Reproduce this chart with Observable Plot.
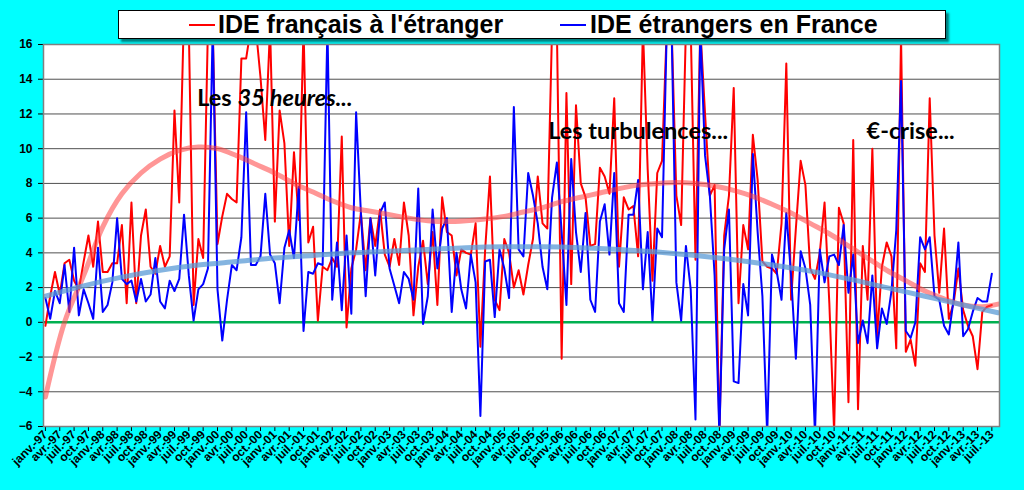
<!DOCTYPE html>
<html><head><meta charset="utf-8">
<script src="https://cdn.jsdelivr.net/npm/d3@7"></script>
<script src="https://cdn.jsdelivr.net/npm/@observablehq/plot@0.6"></script>
<style>
html,body{margin:0;padding:0;background:#00ffff;}
#wrap{position:relative;width:1024px;height:490px;overflow:hidden;background:#00ffff;}
#legend{position:absolute;left:118px;top:10px;width:826px;height:27px;background:#fff;border:1px solid #000;box-shadow:3px 3px 2px rgba(0,0,0,0.5);font:bold 25px "Liberation Sans",Arial,sans-serif;color:#000;z-index:2;}
.sw{position:absolute;top:13px;width:26px;height:2px;}
.lt{position:absolute;top:-2px;white-space:nowrap;line-height:30px;}
#chart{position:absolute;left:0;top:0;}
</style></head>
<body><div id="wrap">
<div id="legend">
  <div class="sw" style="left:70px;background:#ff0000"></div><div class="lt" style="left:99px">IDE français à l'étranger</div>
  <div class="sw" style="left:441px;background:#0000ff"></div><div class="lt" style="left:471px">IDE étrangers en France</div>
</div>
<div id="chart"></div>
</div>
<script>
// Monthly values, janv.97 .. juil.13
const ideFrancaisEtranger = [
-0.2,1.5,2.9,1.6,3.4,3.6,2.4,1.9,3.5,5.0,3.2,5.8,2.9,2.9,3.4,3.4,5.6,1.1,6.9,1.1,5.0,6.5,3.2,2.8,4.4,
3.2,3.8,12.2,6.9,18,17,1.0,4.8,3.7,17,17,4.5,6.1,7.4,7.1,6.9,15.2,15.2,17,17,14.1,10.5,17,5.8,12.2,
10.3,4.4,9.8,5.9,17,4.6,5.5,0.1,3.2,3.0,3.7,3.2,10.7,-0.3,3.1,4.2,6.3,3.0,6.0,4.4,6.5,3.9,3.2,4.8,3.3,
6.9,5.0,0.4,3.2,4.7,2.2,5.2,1.0,7.2,5.2,5.0,2.7,4.2,4.0,3.9,5.7,-1.4,4.2,8.4,1.3,0.7,4.8,4.0,2.0,3.0,
1.6,3.3,4.8,8.4,5.7,5.4,17,17,-2.1,13.2,2.2,12.5,8.0,7.2,4.4,4.5,8.9,8.4,7.4,12.9,3.2,7.2,6.5,6.7,3.8,
17,8.8,2.4,8.6,9.3,17,17,7.3,5.6,17,17,3.6,17,12,7.3,7.9,-6.5,5.0,7.3,13.5,1.1,5.6,4.2,10.8,8.2,
3.5,3.2,3.1,2.8,5.7,14.9,1.3,5.4,9.3,7.9,3.1,2.5,4.0,6.9,1.1,-6.3,6.6,5.7,-4.6,10.5,-5.0,4.4,1.3,10.0,-0.8,
3.2,4.6,3.8,-1.5,16.5,-1.7,-1.0,-2.5,3.4,2.9,12.9,5.0,1.7,5.4,0.2,1.1,3.1,0.7,-0.2,-0.8,-2.7,0.6,0.9,1.0
];
const ideEtrangersFrance = [
1.4,0.2,1.8,1.1,3.3,0.6,4.3,0.4,1.9,1.1,0.2,4.3,0.6,1.0,2.3,6.0,2.5,2.2,2.4,1.2,2.5,1.2,1.6,3.7,1.2,
0.8,2.4,1.8,2.5,6.2,2.7,0.1,1.9,2.2,3.1,17,1.9,-1.05,1.3,3.3,3.0,4.9,12.1,3.3,3.3,3.8,7.4,3.9,3.4,1.1,
4.3,5.3,3.7,7.8,-0.5,2.9,2.8,3.4,3.3,17,1.3,4.6,0.7,5.0,0.5,12.1,6.3,1.5,6.0,2.7,6.3,6.9,3.1,2.1,1.1,
2.9,2.5,1.3,7.7,-0.1,1.5,6.5,3.1,5.4,6.0,0.6,4.0,1.9,0.8,3.9,2.3,-5.4,3.5,3.6,0.3,4.2,3.1,1.4,12.4,4.2,
3.8,8.6,7.3,5.7,3.2,1.9,7.2,9.2,5.2,1.0,9.4,5.2,2.9,6.3,1.3,0.6,5.8,6.8,3.9,8.6,1.1,0.6,6.2,6.2,8.2,
1.9,5.2,0.1,5.4,4.9,17,17,2.3,0.1,4.4,1.9,-5.6,17,9.6,7.3,2.7,-6.5,4.2,6.5,-3.4,-3.5,2.2,0.4,9.7,5.2,
1.5,-6.5,3.9,2.9,1.3,6.3,2.7,-2.1,4.1,3.1,1.0,-6.5,4.2,2.3,3.8,3.9,3.3,5.6,1.7,3.9,-1.2,0.1,-1.2,2.7,-1.5,
0.8,-0.1,1.8,5.3,13.9,-0.5,-0.9,0.0,4.9,4.2,4.9,1.5,1.3,-0.2,-0.7,1.3,4.6,-0.8,-0.4,0.6,1.4,1.2,1.2,2.8
];
// Trend curves (month index, value)
const trendFrancaisMonths = [0,4,8,12,16,20,24,28,32,36,40,44,48,52,56,60,64,68,72,76,80,84,88,92,96,100,104,108,112,116,120,124,128,132,136,140,144,148,152,156,160,164,168,172,176,180,184,188,192,196,199.3];
const trendFrancaisValues = [-4.3,0,2.7,5.5,7.4,8.6,9.4,9.9,10.1,10.0,9.6,9.1,8.6,8.0,7.5,7.0,6.6,6.4,6.2,6.0,5.85,5.8,5.85,5.95,6.1,6.35,6.6,6.95,7.2,7.45,7.7,7.9,8.0,8.05,8.0,7.85,7.6,7.25,6.8,6.3,5.7,5.1,4.4,3.7,3.0,2.4,1.8,1.35,1.0,0.9,1.05];
const trendEtrangersMonths = [0,8,16,24,32,40,48,56,64,72,80,88,96,104,112,120,128,136,144,152,160,168,176,184,192,199.3];
const trendEtrangersValues = [1.5,2.1,2.6,3.0,3.3,3.5,3.7,3.85,4.0,4.1,4.2,4.3,4.35,4.35,4.3,4.2,4.05,3.85,3.6,3.3,2.95,2.5,2.0,1.5,1.0,0.55];
// Axis labels
const quarterNames = ["janv.-","avr.-","juil.-","oct.-"];
const yearNames = ["97","98","99","00","01","02","03","04","05","06","07","08","09","10","11","12","13"];
const tickLabels = yearNames.flatMap(y => quarterNames.map(q => q + y)).slice(0, 67);
const yTicks = [-6,-4,-2,0,2,4,6,8,10,12,14,16];
// Annotations
const noteTexts = ["Les 35 heures...", "Les turbulences...", "€-crise..."];
const noteMonths = [48, 124, 181];
const noteValues = [12.9, 11.0, 11.0];

const red = ideFrancaisEtranger.map((v, i) => ({m: i, v}));
const blue = ideEtrangersFrance.map((v, i) => ({m: i, v}));
const redTrend = trendFrancaisMonths.map((m, i) => ({m, v: trendFrancaisValues[i]}));
const blueTrend = trendEtrangersMonths.map((m, i) => ({m, v: trendEtrangersValues[i]}));
const notes = noteTexts.map((t, i) => ({t, m: noteMonths[i], v: noteValues[i]}));
const xTickPos = tickLabels.map((_, k) => k * 3);

const chart = Plot.plot({
  width: 1024, height: 490,
  marginLeft: 43, marginRight: 25, marginTop: 44, marginBottom: 64,
  style: {background: "transparent", fontFamily: "'Liberation Sans', Arial, sans-serif", fontSize: "12px", fontWeight: "bold", color: "#000"},
  x: {domain: [-0.4, 199.6], ticks: xTickPos, tickFormat: d => tickLabels[Math.round(d / 3)], tickRotate: -45, tickSize: 5, tickPadding: 1, label: null},
  y: {domain: [-6, 16], ticks: yTicks, tickSize: 5, tickPadding: 6, label: null},
  marks: [
    Plot.frame({fill: "white", stroke: "none"}),
    Plot.ruleY(yTicks, {stroke: "#505050", strokeWidth: 1}),
    Plot.ruleY([0], {stroke: "#00b050", strokeWidth: 2.5}),
    Plot.line(red, {x: "m", y: "v", stroke: "#ff0000", strokeWidth: 2, clip: true}),
    Plot.line(blue, {x: "m", y: "v", stroke: "#0000ff", strokeWidth: 2, clip: true}),
    Plot.line(redTrend, {x: "m", y: "v", curve: "catmull-rom", stroke: "#ff4040", strokeOpacity: 0.55, strokeWidth: 5, clip: true}),
    Plot.line(blueTrend, {x: "m", y: "v", curve: "catmull-rom", stroke: "#5b9bd5", strokeOpacity: 0.75, strokeWidth: 5, clip: true}),
    Plot.frame({stroke: "#808080", strokeWidth: 1.5}),
    Plot.text(notes, {x: "m", y: "v", text: "t", fontFamily: "Lato, 'Open Sans', sans-serif", fontSize: 23.5, fontWeight: "bold", fill: "#000"})
  ]
});
document.getElementById("chart").appendChild(chart);
d3.select(chart).selectAll("text").filter(function() { return this.textContent === "Les 35 heures..."; })
  .each(function() {
    const t = d3.select(this);
    t.text(null);
    t.append("tspan").text("Les ");
    t.append("tspan").attr("font-style", "italic").text("35 heures...");
  });
</script>
</body></html>
